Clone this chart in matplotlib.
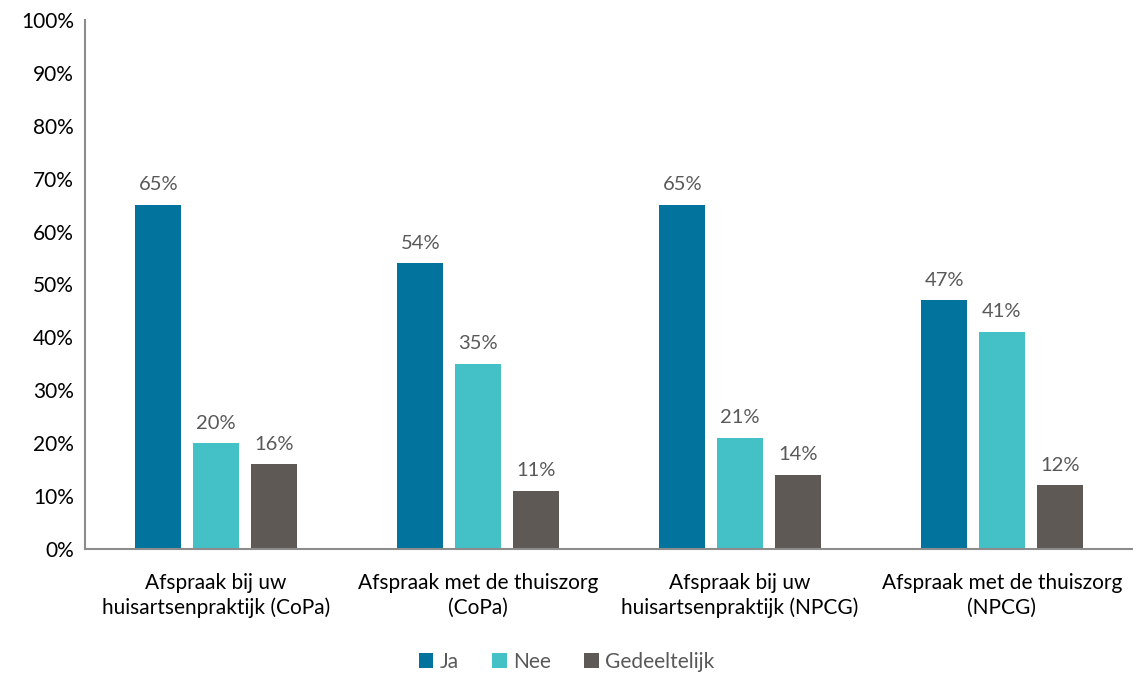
import numpy as np
import matplotlib.pyplot as plt

# data
categories = ["Afspraak bij uw\nhuisartsenpraktijk (CoPa)",
              "Afspraak met de thuiszorg\n(CoPa)",
              "Afspraak bij uw\nhuisartsenpraktijk (NPCG)",
              "Afspraak met de thuiszorg\n(NPCG)"]
series = ["Ja", "Nee", "Gedeeltelijk"]
ja = [65, 54, 65, 47]
nee = [20, 35, 21, 41]
gedeeltelijk = [16, 11, 14, 12]
colors = ["#02739D", "#43C1C6", "#5E5955"]

plt.rcParams['font.family'] = ['Lato', 'DejaVu Sans']

fig = plt.figure(figsize=(11.33, 6.75), dpi=100)
ax = fig.add_axes([0.075, 0.1867, 0.925, 0.7837])

x = np.arange(len(categories))
offsets = [-0.22, 0, 0.22]
for vals, off, col, name in zip([ja, nee, gedeeltelijk], offsets, colors, series):
    bars = ax.bar(x + off, vals, width=0.176, color=col, label=name)
    for b, v in zip(bars, vals):
        ax.text(b.get_x() + b.get_width() / 2, v + 2.2, f"{v}%",
                ha='center', va='bottom', fontsize=14.5, color='#595959')

ax.set_xlim(-0.5, len(categories) - 0.5)
ax.set_ylim(0, 100)
ax.set_yticks(range(0, 101, 10))
ax.set_yticklabels([f"{t}%" for t in range(0, 101, 10)], fontsize=15)
ax.set_xticks(x)
ax.set_xticklabels(categories, fontsize=15, linespacing=1.3)
ax.tick_params(axis='both', length=0)
ax.tick_params(axis='x', pad=17)
ax.tick_params(axis='y', pad=8)

for s in ['top', 'right']:
    ax.spines[s].set_visible(False)
for s in ['left', 'bottom']:
    ax.spines[s].set_color('#8C8C8C')
    ax.spines[s].set_linewidth(1.5)

fig.legend(loc='center', bbox_to_anchor=(0.5, 0.02), ncol=3, frameon=False,
           fontsize=15, handlelength=0.7, handleheight=0.7, handletextpad=0.3,
           columnspacing=1.6, labelcolor='#595959')

fig.savefig("out.png", dpi=100)
